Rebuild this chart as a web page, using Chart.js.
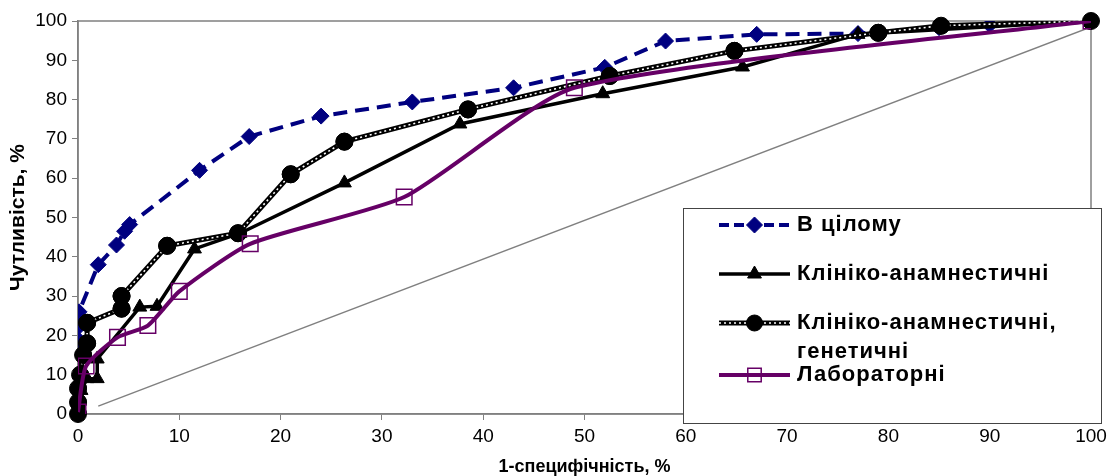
<!DOCTYPE html>
<html><head><meta charset="utf-8">
<script src="https://cdn.jsdelivr.net/npm/chart.js@4"></script>
<style>html,body{margin:0;padding:0;background:#fff;}#wrap{width:1112px;height:476px;}</style>
</head><body><div id="wrap"><canvas id="c" width="1112" height="476"></canvas></div>
<script>
// ---- data ----
const seriesLabels = ["В цілому", "Клініко-анамнестичні", "Клініко-анамнестичні, генетичні", "Лабораторні"];
const legendLines = [["В цілому"], ["Клініко-анамнестичні"], ["Клініко-анамнестичні,", "генетичні"], ["Лабораторні"]];
const xTitle = "1-специфічність, %";
const yTitle = "Чутливість, %";

const overallX = [0, 0, 0, 0, 0, 0, 0, 0.1, 2, 3.8, 4.6, 5.1, 12, 16.9, 24, 33, 43, 52, 58, 67, 77, 85, 90, 100];
const overallY = [0, 3, 7, 11.5, 15.5, 19, 22, 26, 38, 43, 46.5, 48.2, 62, 70.6, 75.8, 79.4, 83, 88.2, 94.9, 96.6, 96.8, 98.3, 99, 100];

const clinX = [0, 0, 0.3, 0.9, 1.9, 1.9, 6.1, 7.8, 11.5, 16, 26.3, 37.7, 51.8, 65.6, 77, 100];
const clinY = [0, 3, 6, 9, 9, 14, 27.2, 27.4, 42, 46, 58.8, 73.8, 81.5, 88.3, 96.6, 100];

const clinGenX = [0, 0, 0, 0.2, 0.5, 0.9, 0.9, 4.3, 4.3, 8.8, 15.8, 21, 26.3, 38.5, 52.5, 64.8, 79, 85.2, 100];
const clinGenY = [0, 3, 6.5, 10, 15, 18, 23.2, 26.8, 30, 42.8, 46, 61, 69.3, 77.5, 86, 92.4, 97, 98.8, 100];

const labX = [0, 0.8, 3.9, 6.9, 10, 17, 32.2, 49, 100];
const labY = [0.5, 12.2, 19.5, 22.5, 31.2, 43.3, 55.2, 83, 100];

const diagX = [2, 100];
const diagY = [2, 98.5];

const tickStep = 10;
// ---- end data ----

const zip = (xs, ys) => xs.map((x, i) => ({x: x, y: ys[i]}));
const FONT = "'Liberation Sans', Arial, sans-serif";
const NAVY = '#000080', PURPLE = '#660066', GRAY = '#808080';

const styles = [
  {color: NAVY, width: 4, dash: [14, 8], point: 'rectRot', radius: 8, fill: NAVY},
  {color: '#000', width: 3.5, dash: [], point: 'triangle', radius: 8, fill: '#000'},
  {color: '#000', width: 5, dash: [], point: 'circle', radius: 8.5, fill: '#000', dotted: true},
  {color: PURPLE, width: 4, dash: [], point: 'rect', radius: 11, fill: 'rgba(0,0,0,0)', pointBorder: 1.5}
];
const seriesData = [zip(overallX, overallY), zip(clinX, clinY), zip(clinGenX, clinGenY), zip(labX, labY)];

const datasets = [{
  label: 'diag', data: zip(diagX, diagY), borderColor: GRAY, borderWidth: 1.5,
  pointRadius: 0, showLine: true, order: 10
}];
seriesData.forEach((d, i) => {
  const s = styles[i];
  datasets.push({
    label: seriesLabels[i], data: d, showLine: true,
    borderColor: s.color, borderWidth: s.width, borderDash: s.dash,
    pointStyle: s.point, pointRadius: s.radius, pointHoverRadius: s.radius,
    pointBackgroundColor: s.fill, pointBorderColor: s.color,
    pointBorderWidth: s.pointBorder || 1,
    tension: i === 3 ? 0.2 : 0,
    order: 4 - i
  });
});

const borderPlugin = {
  id: 'plotBorder',
  beforeDatasetsDraw(chart) {
    const {ctx, chartArea: a} = chart;
    ctx.save();
    ctx.strokeStyle = GRAY; ctx.lineWidth = 1.5;
    ctx.strokeRect(a.left, a.top, a.right - a.left, a.bottom - a.top);
    ctx.restore();
  },
  afterDatasetDraw(chart, args) {
    // white dotted core line for the "genetic" series, then redraw its points
    if (args.index !== 3) return;
    const meta = args.meta;
    const ctx = chart.ctx;
    ctx.save();
    ctx.strokeStyle = '#fff'; ctx.lineWidth = 1.6; ctx.setLineDash([2, 3]);
    ctx.beginPath();
    meta.data.forEach((p, i) => { if (i === 0) ctx.moveTo(p.x, p.y); else ctx.lineTo(p.x, p.y); });
    ctx.stroke();
    ctx.restore();
    meta.data.forEach(p => p.draw(ctx, chart.chartArea));
  }
};

const legendPlugin = {
  id: 'boxLegend',
  afterDraw(chart) {
    const ctx = chart.ctx;
    const bx = 683, by = 208, bw = 418, bh = 215;
    ctx.save();
    ctx.fillStyle = '#fff';
    ctx.fillRect(bx, by, bw, bh);
    ctx.strokeStyle = '#444'; ctx.lineWidth = 1;
    ctx.strokeRect(bx + 0.5, by + 0.5, bw, bh);
    const rows = [225, 274, 323, 375];
    const x0 = 719, x1 = 790, tx = 797;
    ctx.font = "bold 22px " + FONT;
    try { ctx.letterSpacing = '1px'; } catch (e) {}
    ctx.textBaseline = 'middle';
    rows.forEach((ry, i) => {
      const s = styles[i];
      ctx.save();
      ctx.strokeStyle = s.color; ctx.lineWidth = s.width;
      ctx.setLineDash(i === 0 ? [10, 5] : []);
      ctx.beginPath(); ctx.moveTo(x0, ry); ctx.lineTo(x1, ry); ctx.stroke();
      if (s.dotted) {
        ctx.strokeStyle = '#fff'; ctx.lineWidth = 1.4; ctx.setLineDash([2, 3]);
        ctx.beginPath(); ctx.moveTo(x0, ry); ctx.lineTo(x1, ry); ctx.stroke();
      }
      ctx.restore();
      ctx.save();
      ctx.fillStyle = s.fill; ctx.strokeStyle = s.color; ctx.lineWidth = s.pointBorder || 1;
      const rr = i === 3 ? 9.5 : 8;
      Chart.helpers.drawPoint(ctx, {pointStyle: s.point, radius: rr, rotation: 0, borderWidth: s.pointBorder || 1}, (x0 + x1) / 2, ry);
      ctx.restore();
      ctx.fillStyle = '#000';
      legendLines[i].forEach((t, k) => ctx.fillText(t, tx, ry + k * 29));
    });
    ctx.restore();
  }
};

new Chart(document.getElementById('c'), {
  type: 'scatter',
  data: {datasets},
  plugins: [borderPlugin, legendPlugin],
  options: {
    responsive: false, animation: false, devicePixelRatio: 1,
    layout: {padding: {left: 0, top: 21, right: 21, bottom: 0}},
    plugins: {legend: {display: false}, tooltip: {enabled: false}},
    scales: {
      x: {
        type: 'linear', min: 0, max: 100,
        ticks: {stepSize: tickStep, color: '#000', font: {family: FONT, size: 19}, padding: 5, maxRotation: 0},
        grid: {display: true, drawOnChartArea: false, drawTicks: true, tickLength: 6, color: GRAY},
        border: {display: true, color: GRAY, width: 1.5},
        title: {display: true, text: xTitle, color: '#000', font: {family: FONT, size: 18, weight: 'bold'}, padding: {top: 0, bottom: -2}},
        afterFit(s) { s.height = 62; s.paddingLeft = 0; s.paddingRight = 0; }
      },
      y: {
        type: 'linear', min: 0, max: 100,
        ticks: {stepSize: tickStep, color: '#000', font: {family: FONT, size: 19}, padding: 5},
        grid: {display: true, drawOnChartArea: false, drawTicks: true, tickLength: 6, color: GRAY},
        border: {display: true, color: GRAY, width: 1.5},
        title: {display: true, text: yTitle, color: '#000', font: {family: FONT, size: 21, weight: 'bold'}, padding: {top: 6, bottom: 0}},
        afterFit(s) { s.width = 78; s.paddingTop = 0; s.paddingBottom = 0; }
      }
    }
  }
});
</script>
</body></html>
